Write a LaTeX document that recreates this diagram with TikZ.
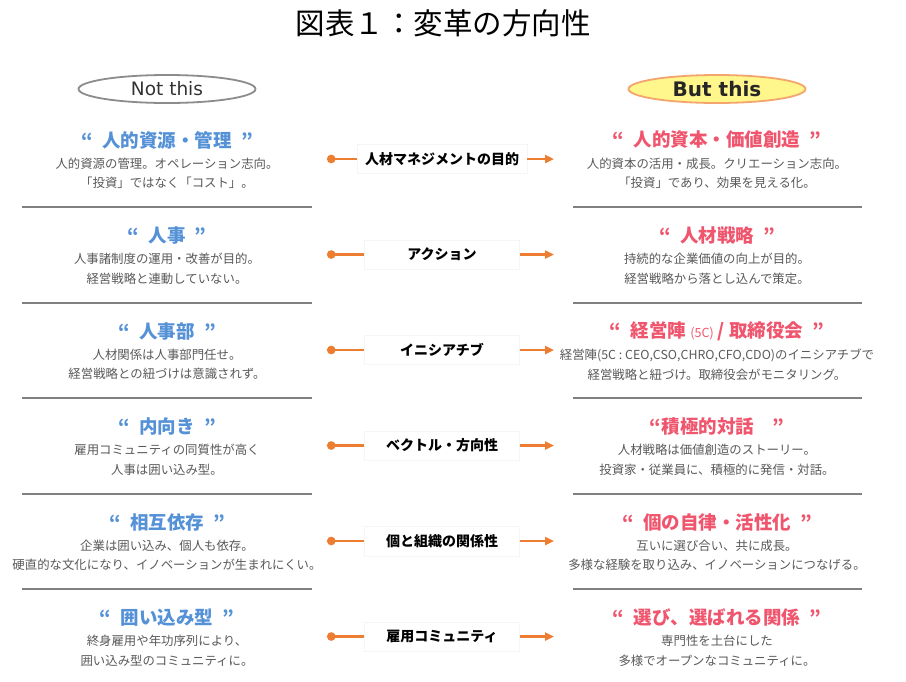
\documentclass[tikz,border=0pt]{standalone}
\usepackage{fontspec}
\setmainfont{Noto Sans CJK JP}
\newfontfamily\latinfont{DejaVu Sans}
\usepackage{xcolor}
\usepackage{tikz}
\usetikzlibrary{shapes.geometric,arrows.meta}
\definecolor{oldblue}{RGB}{85,145,215}
\definecolor{newpink}{RGB}{240,85,110}
\definecolor{desctext}{RGB}{89,89,89}
\definecolor{arroworange}{RGB}{237,125,49}
\definecolor{sepgray}{RGB}{128,128,128}
\definecolor{butfill}{RGB}{255,246,140}
\definecolor{butdraw}{RGB}{244,165,110}

\begin{document}
\begin{tikzpicture}[x=1pt, y=-1pt,
  oldtitle/.style={font=\fontsize{18.5}{18.5}\selectfont\bfseries, text=oldblue, inner sep=0},
  newtitle/.style={font=\fontsize{18.5}{18.5}\selectfont\bfseries, text=newpink, inner sep=0},
  desc/.style={font=\fontsize{12.4}{19.5}\selectfont, text=desctext, align=center, inner sep=0},
  midbox/.style={font=\fontsize{14}{14}\selectfont\bfseries, draw=black!4, fill=white, minimum width=155, minimum height=26, inner sep=8},
  sepline/.style={draw=sepgray, line width=2},
  toold/.style={draw=arroworange, line width=2.6, -{Circle[length=8.5pt]}},
  tonew/.style={draw=arroworange, line width=2.6, -{Triangle[length=9pt,width=8pt]}}]
\useasboundingbox[fill=white] (0,0) rectangle (906,681);
%title and heads
\node (title) at (443,23) {\fontsize{29.5}{29.5}\selectfont 図表１：変革の方向性};
\node[ellipse, draw=black!45, line width=1.8, minimum width=177, minimum height=28, inner sep=0, font=\latinfont\fontsize{18.5}{18.5}\selectfont, text=black!80] (notthis) at (167,89) {Not this};
\node[ellipse, draw=butdraw, fill=butfill, line width=1.8, minimum width=177, minimum height=28, inner sep=0, font=\latinfont\bfseries\fontsize{20}{20}\selectfont, text=black!85] (butthis) at (717,89) {But this};
%row 1
\node[oldtitle] (lt1) at (167,140) {“\enspace 人的資源・管理\enspace ”};
\node[desc] (ld1) at (167,173.5) {人的資源の管理。オペレーション志向。\\「投資」ではなく「コスト」。};
\node[midbox] (m1) at (442,159) {人材マネジメントの目的};
\node[newtitle] (rt1) at (717,140) {“\enspace 人的資本・価値創造\enspace ”};
\node[desc] (rd1) at (717,173.5) {人的資本の活用・成長。クリエーション志向。\\「投資」であり、効果を見える化。};
%row 2
\node[oldtitle] (lt2) at (167,235.5) {“\enspace 人事\enspace ”};
\node[desc] (ld2) at (167,269) {人事諸制度の運用・改善が目的。\\経営戦略と連動していない。};
\node[midbox] (m2) at (442,254.5) {アクション};
\node[newtitle] (rt2) at (717,235.5) {“\enspace 人材戦略\enspace ”};
\node[desc] (rd2) at (717,269) {持続的な企業価値の向上が目的。\\経営戦略から落とし込んで策定。};
%row 3
\node[oldtitle] (lt3) at (167,331) {“\enspace 人事部\enspace ”};
\node[desc] (ld3) at (167,364.5) {人材関係は人事部門任せ。\\経営戦略との紐づけは意識されず。};
\node[midbox] (m3) at (442,350) {イニシアチブ};
\node[newtitle] (rt3) at (717,331) {“\enspace 経営陣 {\mdseries\fontsize{12.5}{12.5}\selectfont (5C)} / 取締役会\enspace ”};
\node[desc] (rd3) at (717,364.5) {経営陣(5C : CEO,CSO,CHRO,CFO,CDO)のイニシアチブで\\経営戦略と紐づけ。取締役会がモニタリング。};
%row 4
\node[oldtitle] (lt4) at (167,426.5) {“\enspace 内向き\enspace ”};
\node[desc] (ld4) at (167,460) {雇用コミュニティの同質性が高く\\人事は囲い込み型。};
\node[midbox] (m4) at (442,445.5) {ベクトル・方向性};
\node[newtitle] (rt4) at (717,426.5) {“積極的対話\quad ”};
\node[desc] (rd4) at (717,460) {人材戦略は価値創造のストーリー。\\投資家・従業員に、積極的に発信・対話。};
%row 5
\node[oldtitle] (lt5) at (167,522) {“\enspace 相互依存\enspace ”};
\node[desc] (ld5) at (167,555.5) {企業は囲い込み、個人も依存。\\硬直的な文化になり、イノベーションが生まれにくい。};
\node[midbox] (m5) at (442,541) {個と組織の関係性};
\node[newtitle] (rt5) at (717,522) {“\enspace 個の自律・活性化\enspace ”};
\node[desc] (rd5) at (717,555.5) {互いに選び合い、共に成長。\\多様な経験を取り込み、イノベーションにつなげる。};
%row 6
\node[oldtitle] (lt6) at (167,617.5) {“\enspace 囲い込み型\enspace ”};
\node[desc] (ld6) at (167,651) {終身雇用や年功序列により、\\囲い込み型のコミュニティに。};
\node[midbox] (m6) at (442,636.5) {雇用コミュニティ};
\node[newtitle] (rt6) at (717,617.5) {“\enspace 選び、選ばれる関係\enspace ”};
\node[desc] (rd6) at (717,651) {専門性を土台にした\\多様でオープンなコミュニティに。};
%arrow ends
\coordinate (o1) at (327,159);
\coordinate (n1) at (554,159);
\coordinate (o2) at (327,254.5);
\coordinate (n2) at (554,254.5);
\coordinate (o3) at (327,350);
\coordinate (n3) at (554,350);
\coordinate (o4) at (327,445.5);
\coordinate (n4) at (554,445.5);
\coordinate (o5) at (327,541);
\coordinate (n5) at (554,541);
\coordinate (o6) at (327,636.5);
\coordinate (n6) at (554,636.5);
\draw [toold] (m1) -- (o1);
\draw [tonew] (m1) -- (n1);
\draw [toold] (m2) -- (o2);
\draw [tonew] (m2) -- (n2);
\draw [toold] (m3) -- (o3);
\draw [tonew] (m3) -- (n3);
\draw [toold] (m4) -- (o4);
\draw [tonew] (m4) -- (n4);
\draw [toold] (m5) -- (o5);
\draw [tonew] (m5) -- (n5);
\draw [toold] (m6) -- (o6);
\draw [tonew] (m6) -- (n6);
%separators
\draw [sepline] (22,207) -- (312,207);
\draw [sepline] (573,207) -- (862,207);
\draw [sepline] (22,302.5) -- (312,302.5);
\draw [sepline] (573,302.5) -- (862,302.5);
\draw [sepline] (22,398) -- (312,398);
\draw [sepline] (573,398) -- (862,398);
\draw [sepline] (22,493.5) -- (312,493.5);
\draw [sepline] (573,493.5) -- (862,493.5);
\draw [sepline] (22,589) -- (312,589);
\draw [sepline] (573,589) -- (862,589);
\end{tikzpicture}
\end{document}
